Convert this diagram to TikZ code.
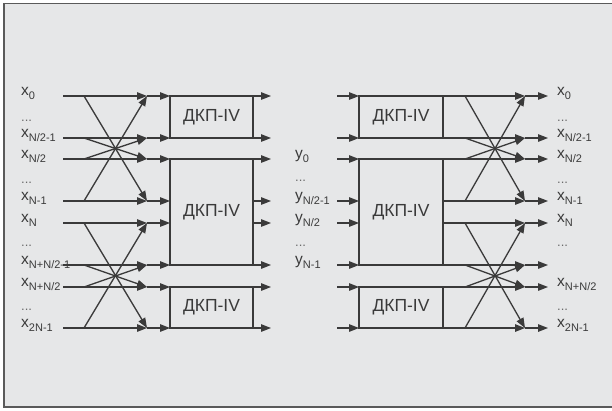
\documentclass[tikz,border=0pt]{standalone}
\usepackage{fontspec}
\setmainfont{Liberation Sans}
\usetikzlibrary{arrows.meta}
\definecolor{bg}{HTML}{E6E7E8}
\definecolor{ink}{HTML}{3A3A3A}
\definecolor{rim}{HTML}{5A5A5A}
% lowered subscript in upright sans
\newcommand\lowsub[1]{\raisebox{-0.27em}{\fontsize{11}{11}\selectfont #1}}
\tikzset{
  wire/.style={draw=ink, line width=1.3pt, -{Triangle[length=10pt,width=7.5pt]}},
  frameline/.style={draw=rim, line width=1.5pt},
  dctbox/.style={draw=ink, line width=1.4pt, inner sep=0pt, minimum width=83pt,
    font=\fontsize{17.5}{17.5}\selectfont, text=ink},
  lab/.style={anchor=base west, inner sep=0pt, font=\fontsize{15.5}{15.5}\selectfont, text=ink},
  dotlab/.style={anchor=base west, inner sep=0pt, font=\fontsize{13}{13}\selectfont, text=ink!75},
}
\begin{document}
\begin{tikzpicture}[x=1pt,y=-1pt]
\useasboundingbox (0,0) rectangle (612,410);
\fill[white] (0,0) rectangle (612,410);
\fill[bg] (4,3.5) rectangle (612,407);
\draw[frameline] (612,3.5) -- (4,3.5) -- (4,407) -- (612,407);

% row coordinates for every stage
\foreach \i/\y in {1/96,2/138,3/159,4/201,5/223,6/265,7/287,8/328}{
  \coordinate (a\i) at (63,\y);
  \coordinate (b\i) at (84,\y);
  \coordinate (c\i) at (147,\y);
  \coordinate (d\i) at (170,\y);
  \coordinate (e\i) at (253,\y);
  \coordinate (f\i) at (271,\y);
  \coordinate (g\i) at (337,\y);
  \coordinate (h\i) at (359,\y);
  \coordinate (p\i) at (443,\y);
  \coordinate (q\i) at (465,\y);
  \coordinate (r\i) at (525,\y);
  \coordinate (s\i) at (548,\y);
}

% transform blocks
\node[dctbox, minimum height=42pt] (L1) at (211.5,117) {ДКП-IV};
\node[dctbox, minimum height=106pt] (L2) at (211.5,212) {ДКП-IV};
\node[dctbox, minimum height=41pt] (L3) at (211.5,307.5) {ДКП-IV};
\node[dctbox, minimum width=84pt, minimum height=42pt] (R1) at (401,117) {ДКП-IV};
\node[dctbox, minimum width=84pt, minimum height=106pt] (R2) at (401,212) {ДКП-IV};
\node[dctbox, minimum width=84pt, minimum height=41pt] (R3) at (401,307.5) {ДКП-IV};

% straight wires
\foreach \i in {1,...,8}{
  \draw[wire] (a\i) -- (c\i);
  \draw[wire] (c\i) -- (d\i);
  \draw[wire] (e\i) -- (f\i);
  \draw[wire] (g\i) -- (h\i);
  \draw[wire] (p\i) -- (r\i);
  \draw[wire] (r\i) -- (s\i);
}

% butterflies
\foreach \u/\v in {1/4,4/1,2/3,3/2,5/8,8/5,6/7,7/6}{
  \draw[wire] (b\u) -- (c\v);
  \draw[wire] (q\u) -- (r\v);
}

% input labels
\node[lab] (xi1) at (21,95) {x\lowsub{0}};
\node[dotlab] (xd1) at (21,121) {...};
\node[lab] (xi2) at (21,137) {x\lowsub{N/2-1}};
\node[lab] (xi3) at (21,158) {x\lowsub{N/2}};
\node[dotlab] (xd2) at (21,183) {...};
\node[lab] (xi4) at (21,200) {x\lowsub{N-1}};
\node[lab] (xi5) at (21,222) {x\lowsub{N}};
\node[dotlab] (xd3) at (21,246) {...};
\node[lab] (xi6) at (21,264) {x\lowsub{N+N/2-1}};
\node[lab] (xi7) at (21,286) {x\lowsub{N+N/2}};
\node[dotlab] (xd4) at (21,310) {...};
\node[lab] (xi8) at (21,327) {x\lowsub{2N-1}};

% intermediate labels
\node[lab] (y1) at (295,158) {y\lowsub{0}};
\node[dotlab] (yd1) at (295,181) {...};
\node[lab] (y2) at (295,200) {y\lowsub{N/2-1}};
\node[lab] (y3) at (295,222) {y\lowsub{N/2}};
\node[dotlab] (yd2) at (295,246) {...};
\node[lab] (y4) at (295,264) {y\lowsub{N-1}};

% output labels
\node[lab] (xo1) at (557,95) {x\lowsub{0}};
\node[dotlab] (xod1) at (557,121) {...};
\node[lab] (xo2) at (557,137) {x\lowsub{N/2-1}};
\node[lab] (xo3) at (557,158) {x\lowsub{N/2}};
\node[dotlab] (xod2) at (557,183) {...};
\node[lab] (xo4) at (557,200) {x\lowsub{N-1}};
\node[lab] (xo5) at (557,222) {x\lowsub{N}};
\node[dotlab] (xod3) at (557,246) {...};
\node[lab] (xo7) at (557,286) {x\lowsub{N+N/2}};
\node[dotlab] (xod4) at (557,310) {...};
\node[lab] (xo8) at (557,327) {x\lowsub{2N-1}};
\end{tikzpicture}
\end{document}
